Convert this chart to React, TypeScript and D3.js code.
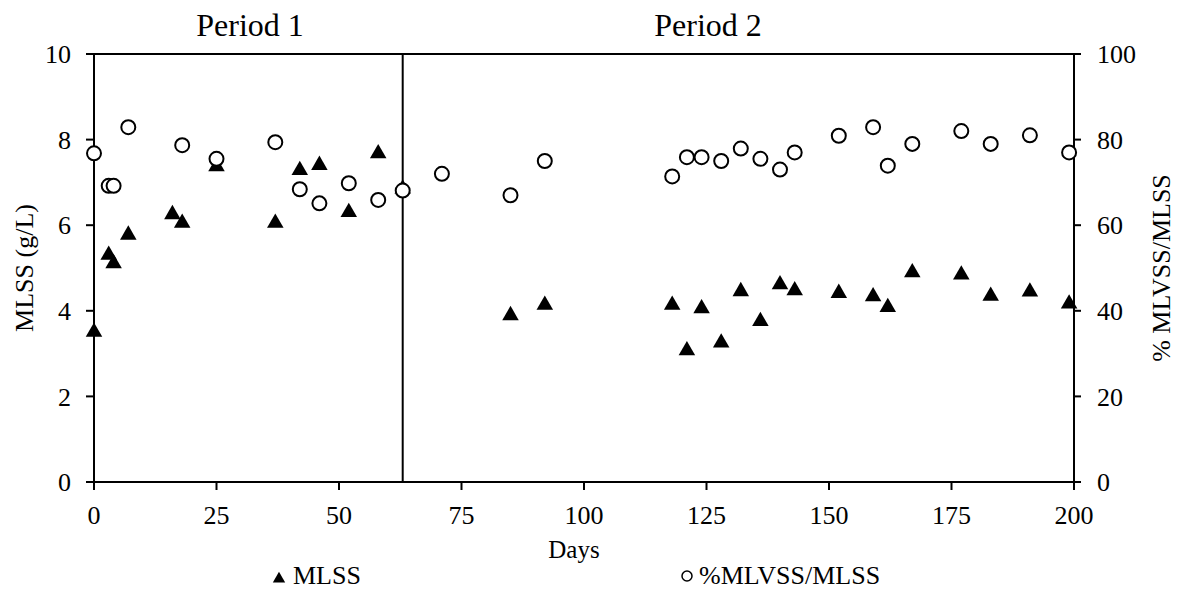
import React from 'react';
import * as d3 from 'd3';

// MLSS (g/L), left axis
const mlssDays = [0, 3, 4, 7, 16, 18, 25, 37, 42, 46, 52, 58, 63, 85, 92, 118, 121, 124, 128, 132, 136, 140, 143, 152, 159, 162, 167, 177, 183, 191, 199];
const mlssValues = [3.55, 5.35, 5.15, 5.82, 6.3, 6.1, 7.42, 6.1, 7.33, 7.45, 6.35, 7.72, 6.9, 3.94, 4.18, 4.18, 3.12, 4.1, 3.3, 4.5, 3.8, 4.66, 4.52, 4.46, 4.38, 4.13, 4.94, 4.89, 4.39, 4.49, 4.21];

// % MLVSS/MLSS, right axis
const vssDays = [0, 3, 4, 7, 18, 25, 37, 42, 46, 52, 58, 63, 71, 85, 92, 118, 121, 124, 128, 132, 136, 140, 143, 152, 159, 162, 167, 177, 183, 191, 199];
const vssValues = [76.8, 69.2, 69.2, 82.9, 78.7, 75.5, 79.4, 68.4, 65.1, 69.8, 65.9, 68.1, 72, 67, 75, 71.4, 75.9, 75.9, 75, 77.9, 75.5, 73, 77, 80.9, 82.9, 73.9, 79, 82, 79, 81, 77];

const xTicks = [0, 25, 50, 75, 100, 125, 150, 175, 200];
const yLeftTicks = [0, 2, 4, 6, 8, 10];
const yRightTicks = [0, 20, 40, 60, 80, 100];
const periodSplit = 63;

const W = 1177;
const H = 592;
const left = 94, right = 1074, top = 54, bottom = 482;
const font = '"Liberation Serif", "Times New Roman", serif';

const App = () => {
  const x = d3.scaleLinear().domain([0, 200]).range([left, right]);
  const yL = d3.scaleLinear().domain([0, 10]).range([bottom, top]);
  const yR = d3.scaleLinear().domain([0, 100]).range([bottom, top]);

  const tri = d3.symbol().type(d3.symbolTriangle).size(118)();
  const triSmall = d3.symbol().type(d3.symbolTriangle).size(66)();

  return (
    <svg width={W} height={H} style={{ position: 'absolute', left: 0, top: 0 }} fontFamily={font}>
      <rect x={0} y={0} width={W} height={H} fill="#fff" />

      {/* frame */}
      <line x1={left - 8} x2={right + 7} y1={top} y2={top} stroke="#000" strokeWidth={2} />
      <line x1={left} x2={right} y1={bottom} y2={bottom} stroke="#000" strokeWidth={2} />
      <line x1={left} x2={left} y1={top} y2={bottom + 8} stroke="#000" strokeWidth={2} />
      <line x1={right} x2={right} y1={top} y2={bottom + 8} stroke="#000" strokeWidth={2} />
      <line x1={x(periodSplit)} x2={x(periodSplit)} y1={top} y2={bottom} stroke="#000" strokeWidth={2} />

      {/* left axis */}
      {yLeftTicks.map((t) => (
        <g key={'l' + t}>
          <line x1={left - 8} x2={left} y1={yL(t)} y2={yL(t)} stroke="#000" strokeWidth={2} />
          <text x={71} y={yL(t)} dy="0.35em" textAnchor="end" fontSize={26}>{t}</text>
        </g>
      ))}
      {/* right axis */}
      {yRightTicks.map((t) => (
        <g key={'r' + t}>
          <line x1={right} x2={right + 7} y1={yR(t)} y2={yR(t)} stroke="#000" strokeWidth={2} />
          <text x={1097} y={yR(t)} dy="0.35em" fontSize={26}>{t}</text>
        </g>
      ))}
      {/* bottom axis */}
      {xTicks.map((t) => (
        <g key={'x' + t}>
          <line x1={x(t)} x2={x(t)} y1={bottom} y2={bottom + 8} stroke="#000" strokeWidth={2} />
          <text x={x(t)} y={524} textAnchor="middle" fontSize={26}>{t}</text>
        </g>
      ))}

      <text x={574} y={558} textAnchor="middle" fontSize={25}>Days</text>
      <text transform={`translate(33,${(top + bottom) / 2}) rotate(-90)`} textAnchor="middle" fontSize={26}>MLSS (g/L)</text>
      <text transform={`translate(1170,${(top + bottom) / 2}) rotate(-90)`} textAnchor="middle" fontSize={26}>% MLVSS/MLSS</text>

      <text x={250} y={36} textAnchor="middle" fontSize={32}>Period 1</text>
      <text x={708} y={36} textAnchor="middle" fontSize={32}>Period 2</text>

      {/* MLSS triangles (shifted so the box centre sits on the value) */}
      {mlssDays.map((d, i) => (
        <path key={'m' + i} d={tri} transform={`translate(${x(d)},${yL(mlssValues[i]) + 2})`} fill="#000" />
      ))}
      {/* %MLVSS circles */}
      {vssDays.map((d, i) => (
        <circle key={'v' + i} cx={x(d)} cy={yR(vssValues[i])} r={7} fill="#fff" stroke="#000" strokeWidth={2} />
      ))}

      {/* legend */}
      <path d={triSmall} transform="translate(279,579)" fill="#000" />
      <text x={293} y={584} fontSize={26}>MLSS</text>
      <circle cx={687} cy={576} r={5} fill="#fff" stroke="#000" strokeWidth={1.5} />
      <text x={699} y={584} fontSize={26}>%MLVSS/MLSS</text>
    </svg>
  );
};

export default App;
